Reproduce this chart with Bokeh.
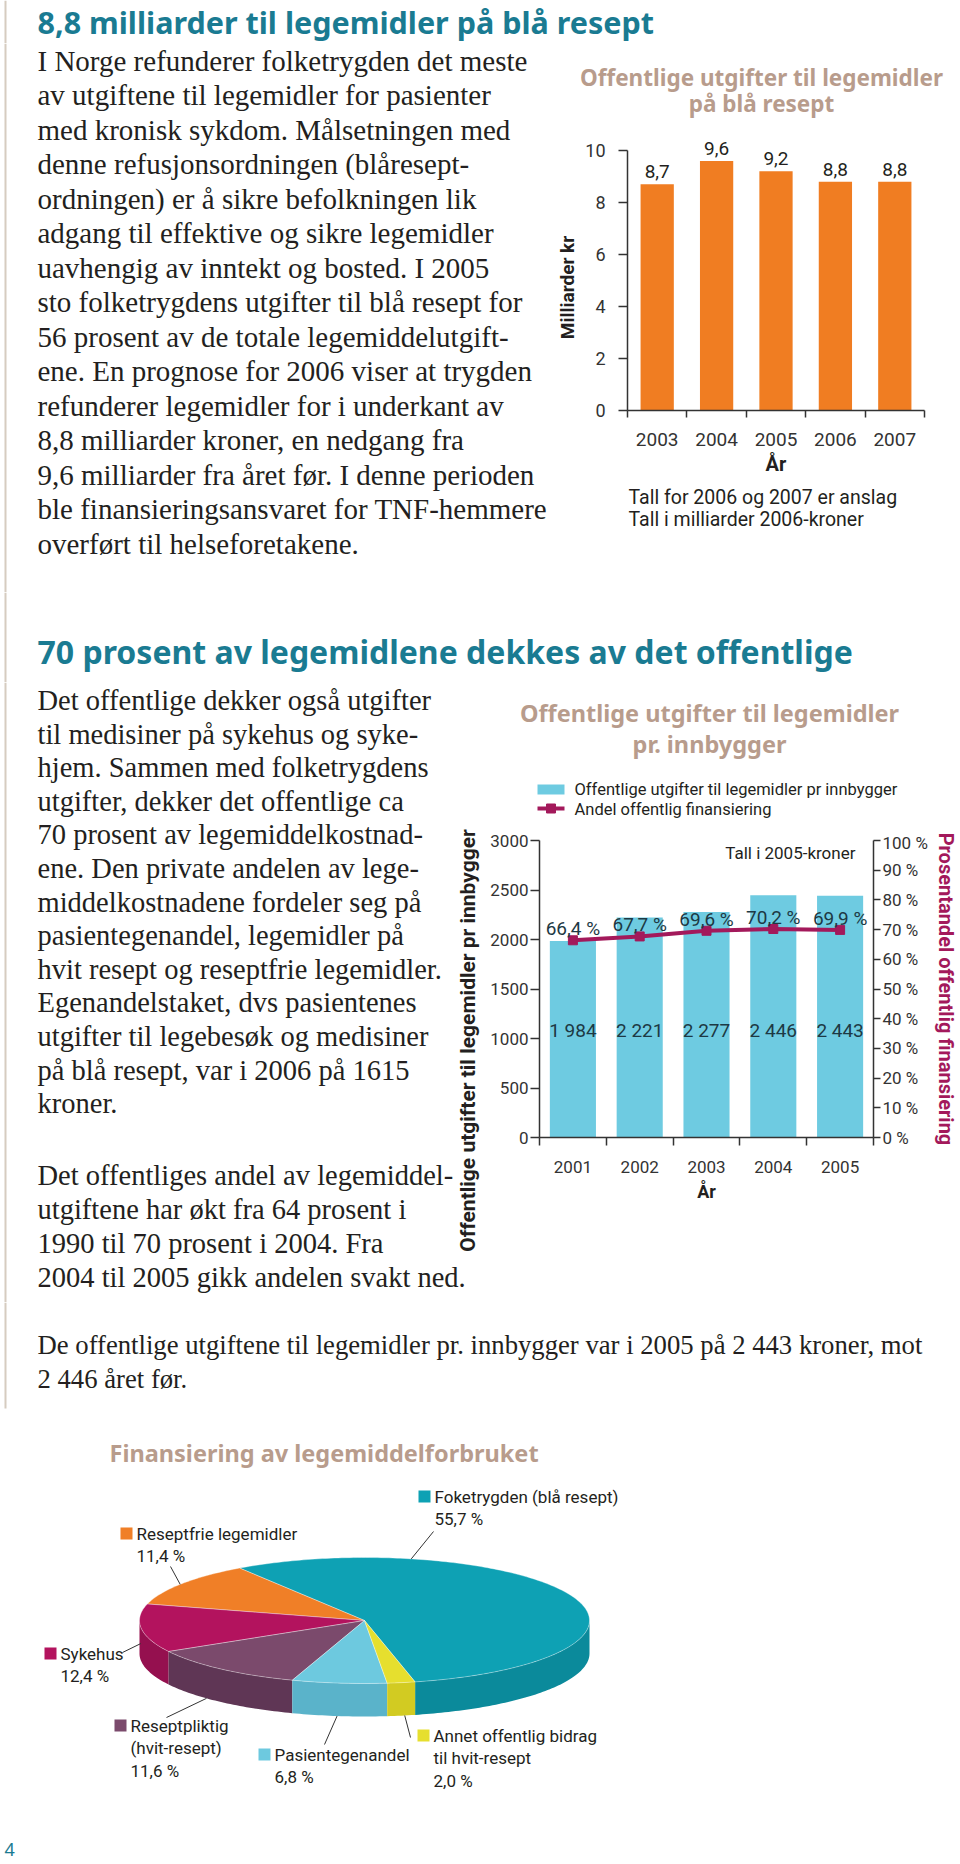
import numpy as np
from bokeh.plotting import figure
from bokeh.layouts import column, row
from bokeh.models import (Range1d, FixedTicker, LinearAxis, LabelSet, Label,
                          ColumnDataSource, PrintfTickFormatter, Spacer)
from bokeh.core.properties import value
from bokeh.embed import file_html
from bokeh.resources import INLINE

# ---------------- data / texts ----------------
title_main = "8,8 milliarder til legemidler på blå resept"
para1 = [
    "I Norge refunderer folketrygden det meste",
    "av utgiftene til legemidler for pasienter",
    "med kronisk sykdom. Målsetningen med",
    "denne refusjonsordningen (blåresept-",
    "ordningen) er å sikre befolkningen lik",
    "adgang til effektive og sikre legemidler",
    "uavhengig av inntekt og bosted. I 2005",
    "sto folketrygdens utgifter til blå resept for",
    "56 prosent av de totale legemiddelutgift-",
    "ene. En prognose for 2006 viser at trygden",
    "refunderer legemidler for i underkant av",
    "8,8 milliarder kroner, en nedgang fra",
    "9,6 milliarder fra året før. I denne perioden",
    "ble finansieringsansvaret for TNF-hemmere",
    "overført til helseforetakene.",
]
chart1_title = ["Offentlige utgifter til legemidler", "på blå resept"]
years1 = [2003, 2004, 2005, 2006, 2007]
spend1 = [8.7, 9.6, 9.2, 8.8, 8.8]
chart1_yticks = [0, 2, 4, 6, 8, 10]
chart1_ylabel = "Milliarder kr"
chart1_xlabel = "År"
chart1_notes = ["Tall for 2006 og 2007 er anslag", "Tall i milliarder 2006-kroner"]

heading2 = "70 prosent av legemidlene dekkes av det offentlige"
para2a = [
    "Det offentlige dekker også utgifter",
    "til medisiner på sykehus og syke-",
    "hjem. Sammen med folketrygdens",
    "utgifter, dekker det offentlige ca",
    "70 prosent av legemiddelkostnad-",
    "ene. Den private andelen av lege-",
    "middelkostnadene fordeler seg på",
    "pasientegenandel, legemidler på",
    "hvit resept og reseptfrie legemidler.",
    "Egenandelstaket, dvs pasientenes",
    "utgifter til legebesøk og medisiner",
    "på blå resept, var i 2006 på 1615",
    "kroner.",
]
para2b = [
    "Det offentliges andel av legemiddel-",
    "utgiftene har økt fra 64 prosent i",
    "1990 til 70 prosent i 2004. Fra",
    "2004 til 2005 gikk andelen svakt ned.",
]
chart2_title = ["Offentlige utgifter til legemidler", "pr. innbygger"]
years2 = [2001, 2002, 2003, 2004, 2005]
per_capita = [1984, 2221, 2277, 2446, 2443]
public_share = [66.4, 67.7, 69.6, 70.2, 69.9]
chart2_yticks = [0, 500, 1000, 1500, 2000, 2500, 3000]
chart2_pticks = [0, 10, 20, 30, 40, 50, 60, 70, 80, 90, 100]
chart2_series = ["Offentlige utgifter til legemidler pr innbygger", "Andel offentlig finansiering"]
chart2_ylabel = "Offentlige utgifter til legemidler pr innbygger"
chart2_y2label = "Prosentandel offentlig finansiering"
chart2_xlabel = "År"
chart2_note = "Tall i 2005-kroner"

para3 = [
    "De offentlige utgiftene til legemidler pr. innbygger var i 2005 på 2 443 kroner, mot",
    "2 446 året før.",
]

pie_title = "Finansiering av legemiddelforbruket"
pie_names = [["Foketrygden (blå resept)"], ["Reseptfrie legemidler"], ["Sykehus"],
             ["Reseptpliktig", "(hvit-resept)"], ["Pasientegenandel"],
             ["Annet offentlig bidrag", "til hvit-resept"]]
pie_shares = [55.7, 11.4, 12.4, 11.6, 6.8, 2.0]
page_number = "4"

# ---------------- styles ----------------
TEAL = "#1a7b92"
TAN = "#b89c8c"
INK = "#231f20"
AXC = "#333333"
RULE = "#d6ccc0"
ORANGE = "#f07d22"
CYAN = "#6ecbe1"
MAG = "#a3195b"
LBL = "#1d3944"
SERIF = "Liberation Serif"
HEAD = "Noto Sans"
SANS = "Roboto"
pie_colors = ["#0ea1b4", "#f07f27", "#b3135e", "#7b4a6c", "#6dc9df", "#e6df2e"]
pie_side_colors = ["#0b8a9b", "#d86d1c", "#95104f", "#5f3655", "#5ab3ca", "#d2cb22"]
RAD = np.pi / 180


def fmt_dec(v):
    return f"{v:.1f}".replace(".", ",")


def fmt_thousands(v):
    return f"{v:,}".replace(",", " ")


def tile(x0, x1, y0, y1):
    f = figure(width=x1 - x0, height=y1 - y0, x_range=Range1d(x0, x1), y_range=Range1d(y1, y0),
               x_axis_type=None, y_axis_type=None, min_border=0, output_backend="svg",
               toolbar_location=None, title=None)
    f.outline_line_color = None
    f.background_fill_color = "white"
    f.border_fill_color = "white"
    return f


def write(f, x, y0, dy, texts, font, size, color, style="normal", align="left", angle=0.0):
    ys = [y0 + i * dy for i in range(len(texts))]
    f.text(x=[x] * len(texts), y=ys, text=texts, text_font=value(font), text_font_size=size,
           text_color=color, text_font_style=style, text_align=align, text_baseline="middle",
           angle=angle)


def rule(f, y0, y1):
    f.segment(x0=[5], y0=[y0], x1=[5], y1=[y1], line_color=RULE, line_width=2)


def style_axis(ax, tick_size, label_size):
    ax.axis_line_color = AXC
    ax.axis_line_width = 1.5
    ax.major_tick_line_color = AXC
    ax.minor_tick_line_color = AXC
    ax.major_tick_line_width = 1.5
    ax.minor_tick_line_width = 1.5
    ax.major_label_text_font = SANS
    ax.major_label_text_font_size = tick_size
    ax.major_label_text_color = AXC
    ax.axis_label_text_font = SANS
    ax.axis_label_text_font_size = label_size
    ax.axis_label_text_font_style = "bold"
    ax.axis_label_text_color = INK


# ---------------- top strip ----------------
t0 = tile(0, 960, 0, 43)
rule(t0, 0, 43)
write(t0, 37, 21.5, 0, [title_main], HEAD, "30.5px", TEAL, "bold")

# ---------------- row A ----------------
t1 = tile(0, 580, 43, 592)
rule(t1, 43, 592)
write(t1, 37, 60, 34.5, para1, SERIF, "29px", INK)
write(t1, 567, 287, 0, [chart1_ylabel], SANS, "19px", INK, "bold", "center", np.pi / 2)

c1t = tile(580, 960, 43, 120)
write(c1t, 761, 77, 26, chart1_title, HEAD, "22.5px", TAN, "bold", "center")

c1 = figure(width=380, height=364, x_range=Range1d(years1[0] - 0.5, years1[-1] + 0.5),
            y_range=Range1d(chart1_yticks[0], 11),
            min_border_left=47, min_border_right=36, min_border_top=4, min_border_bottom=74,
            output_backend="svg", toolbar_location=None, title=None)
c1.grid.visible = False
c1.outline_line_color = None
src1 = ColumnDataSource(dict(x=years1, top=spend1, txt=[fmt_dec(v) for v in spend1]))
c1.vbar(x="x", top="top", width=0.56, source=src1, fill_color=ORANGE, line_color=None)
c1.add_layout(LabelSet(x="x", y="top", text="txt", source=src1, y_offset=6, text_align="center",
                       text_baseline="bottom", text_font=value(SANS), text_font_size="19px",
                       text_color=INK))
ya = c1.yaxis[0]
ya.ticker = FixedTicker(ticks=chart1_yticks)
ya.bounds = (chart1_yticks[0], chart1_yticks[-1])
ya.major_tick_out, ya.major_tick_in, ya.minor_tick_out, ya.minor_tick_in = 9, 0, 0, 0
ya.major_label_standoff = 13
xa = c1.xaxis[0]
xa.ticker = FixedTicker(ticks=years1, minor_ticks=[years1[0] - 0.5] + [y + 0.5 for y in years1])
xa.major_tick_out, xa.major_tick_in, xa.minor_tick_out, xa.minor_tick_in = 0, 0, 7, 0
xa.major_label_standoff = 15
xa.axis_label = chart1_xlabel
xa.axis_label_standoff = 3
style_axis(ya, "18px", "19px")
style_axis(xa, "19px", "20px")

c1n = tile(580, 960, 484, 592)
write(c1n, 628, 497, 22, chart1_notes, SANS, "19.5px", INK)

rowA = row(t1, column(row(c1t), c1, row(c1n)))

# ---------------- row B ----------------
t2 = tile(0, 960, 592, 682)
rule(t2, 592, 682)
write(t2, 37, 651, 0, [heading2], HEAD, "32px", TEAL, "bold")

# ---------------- row C ----------------
t3 = tile(0, 480, 682, 1302)
rule(t3, 682, 1302)
write(t3, 37, 700, 33.6, para2a, SERIF, "28.5px", INK)
write(t3, 37, 1175, 34, para2b, SERIF, "28.5px", INK)
write(t3, 467, 1040, 0, [chart2_ylabel], SANS, "21px", INK, "bold", "center", np.pi / 2)

# title + legend tile above chart 2
c2t = tile(480, 960, 682, 832)
write(c2t, 709, 712, 31, chart2_title, HEAD, "23.5px", TAN, "bold", "center")
c2t.rect(x=[550.5], y=[789], width=27, height=10, fill_color=CYAN, line_color=None)
c2t.segment(x0=[537], y0=[808], x1=[564], y1=[808], line_color=MAG, line_width=4)
c2t.scatter(x=[550.5], y=[808], marker="square", size=9, fill_color=MAG, line_color=MAG)
write(c2t, 574, 789, 20, chart2_series, SANS, "16.5px", INK)

c2 = figure(width=480, height=383, x_range=Range1d(years2[0] - 0.5, years2[-1] + 0.5),
            y_range=Range1d(chart2_yticks[0], chart2_yticks[-1]),
            min_border_left=59, min_border_right=84, min_border_top=8, min_border_bottom=78,
            output_backend="svg", toolbar_location=None, title=None)
c2.grid.visible = False
c2.outline_line_color = None
c2.extra_y_ranges = {"pct": Range1d(chart2_pticks[0], chart2_pticks[-1])}
BAR_LABEL_Y = 1080
src2 = ColumnDataSource(dict(
    x=years2, top=per_capita, share=public_share,
    btxt=[fmt_thousands(v) for v in per_capita],
    ptxt=[fmt_dec(v) + " %" for v in public_share],
    lab_y=[BAR_LABEL_Y] * len(years2)))
bars2 = c2.vbar(x="x", top="top", width=0.69, source=src2, fill_color=CYAN, line_color=None)
line2 = c2.line(x="x", y="share", source=src2, y_range_name="pct", line_color=MAG, line_width=4)
pts2 = c2.scatter(x="x", y="share", source=src2, y_range_name="pct", marker="square", size=9,
                  fill_color=MAG, line_color=MAG)
c2.add_layout(LabelSet(x="x", y="lab_y", text="btxt", source=src2, text_align="center",
                       text_baseline="middle", text_font=value(SANS), text_font_size="19px",
                       text_color=LBL))
c2.add_layout(LabelSet(x="x", y="share", y_range_name="pct", text="ptxt", source=src2, y_offset=0,
                       text_align="center", text_baseline="bottom", text_font=value(SANS),
                       text_font_size="19px", text_color=LBL))
c2.add_layout(Label(x=years2[-1] + 0.23, y=2870, text=chart2_note, text_align="right",
                    text_baseline="middle", text_font=SANS, text_font_size="17px", text_color=INK))

la = c2.yaxis[0]
la.ticker = FixedTicker(ticks=chart2_yticks)
la.major_tick_out, la.major_tick_in, la.minor_tick_out, la.minor_tick_in = 9, 0, 0, 0
la.major_label_standoff = 2
ra = LinearAxis(y_range_name="pct", ticker=FixedTicker(ticks=chart2_pticks),
                formatter=PrintfTickFormatter(format="%d %%"))
ra.major_tick_out, ra.major_tick_in, ra.minor_tick_out, ra.minor_tick_in = 7, 0, 0, 0
ra.major_label_standoff = 2
ra.axis_label = chart2_y2label
ra.axis_label_standoff = 3
c2.add_layout(ra, "right")
xb = c2.xaxis[0]
xb.ticker = FixedTicker(ticks=years2, minor_ticks=[years2[0] - 0.5] + [y + 0.5 for y in years2])
xb.major_tick_out, xb.major_tick_in, xb.minor_tick_out, xb.minor_tick_in = 0, 0, 8, 0
xb.major_label_standoff = 15
xb.axis_label = chart2_xlabel
xb.axis_label_standoff = 5
style_axis(la, "17px", "17px")
style_axis(ra, "17px", "20px")
style_axis(xb, "17px", "18px")
ra.axis_label_text_color = MAG

rowC = row(t3, column(row(c2t), c2, Spacer(width=480, height=87)))

# ---------------- row D ----------------
t4 = tile(0, 960, 1302, 1420)
rule(t4, 1302, 1408)
write(t4, 37, 1344, 34, para3, SERIF, "26.7px", INK)

# ---------------- pie ----------------
pie = tile(0, 960, 1420, 1860)
write(pie, 109, 1452, 0, [pie_title], HEAD, "23.5px", TAN, "bold")
PIE_CX, PIE_CY, PIE_A, PIE_B, PIE_D, PIE_START = 364, 1620, 225, 63, 33, -77.0
total = sum(pie_shares)
top_xs, top_ys, side_xs, side_ys, side_cols = [], [], [], [], []
s = PIE_START
for share, col, scol in zip(pie_shares, pie_colors, pie_side_colors):
    e = s + share / total * 360.0
    tt = np.linspace(s, e, max(3, int(e - s) + 2))
    top_xs.append([PIE_CX] + list(PIE_CX + PIE_A * np.cos(tt * RAD)))
    top_ys.append([PIE_CY] + list(PIE_CY - PIE_B * np.sin(tt * RAD)))
    for lo, hi in ((-180.0, 0.0), (180.0, 360.0)):
        a0, a1 = max(s, lo), min(e, hi)
        if a1 > a0:
            ft = np.linspace(a0, a1, max(3, int(a1 - a0) + 2))
            ex = PIE_CX + PIE_A * np.cos(ft * RAD)
            ey = PIE_CY - PIE_B * np.sin(ft * RAD)
            side_xs.append(list(ex) + list(ex[::-1]))
            side_ys.append(list(ey) + list((ey + PIE_D)[::-1]))
            side_cols.append(scol)
    s = e
pie.patches(side_xs, side_ys, fill_color=side_cols, line_color=None)
pie.patches(top_xs, top_ys, fill_color=pie_colors, line_color="white", line_alpha=0.35,
            line_width=1)

# label layout: swatch x, first line y, leader start, leader angle on pie, attach depth fraction
PIE_LAB = [
    (424, 1496, (433, 1531), 78.0, 0.0),
    (126, 1533, (170, 1566), 145.0, 0.0),
    (50, 1653, (122, 1652), -174.0, 0.5),
    (120, 1725, (166, 1717), -134.6, 1.0),
    (264, 1754, (324, 1744), -97.0, 1.0),
    (423, 1735, (410, 1737), -79.7, 1.0),
]
lx0, ly0, lx1, ly1 = [], [], [], []
for (sx, sy, (ax0, ay0), ang, dep), names, share, col in zip(PIE_LAB, pie_names, pie_shares, pie_colors):
    pie.rect(x=[sx], y=[sy], width=12, height=12, fill_color=col, line_color=None)
    write(pie, sx + 10, sy, 22.5, names + [fmt_dec(share) + " %"], SANS, "17px", INK)
    lx0.append(ax0)
    ly0.append(ay0)
    lx1.append(PIE_CX + PIE_A * np.cos(ang * RAD))
    ly1.append(PIE_CY - PIE_B * np.sin(ang * RAD) + dep * PIE_D)
pie.segment(x0=lx0, y0=ly0, x1=lx1, y1=ly1, line_color=AXC, line_width=1)
write(pie, 4, 1849, 0, [page_number], HEAD, "18px", TEAL)

page = column(t0, rowA, t2, rowC, t4, pie)
open("out.html", "w").write(file_html(page, INLINE))
